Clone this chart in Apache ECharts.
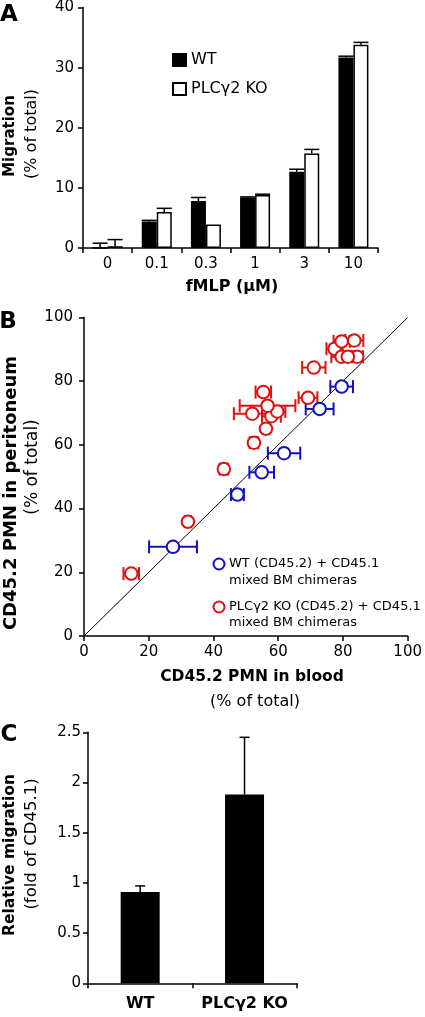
<!DOCTYPE html>
<html><head><meta charset="utf-8">
<script src="https://cdn.jsdelivr.net/npm/echarts@6/dist/echarts.min.js"></script>
<style>html,body{margin:0;padding:0;background:#fff}#c{width:425px;height:1017px}</style>
</head><body><div id="c"></div>
<script>
// ---------- Panel A data ----------
const doseCategories = ['0', '0.1', '0.3', '1', '3', '10'];
const wtMigration = [0, 4.4, 7.8, 8.4, 12.7, 31.7];
const wtMigrationErr = [0.8, 0.2, 0.6, 0.1, 0.4, 0.2];
const koMigration = [0.3, 6.0, 3.9, 8.8, 15.7, 33.8];
const koMigrationErr = [1.1, 0.6, 0, 0.15, 0.7, 0.4];
const migrationTicks = [0, 10, 20, 30, 40];

// ---------- Panel B data ----------
const wtBlood = [27.5, 47.4, 54.9, 61.8, 72.8, 79.6];
const wtPeritoneum = [28.0, 44.4, 51.4, 57.4, 71.3, 78.3];
const wtBloodErr = [7.4, 2.0, 3.8, 5.0, 4.3, 3.5];
const koBlood = [14.6, 32.1, 43.2, 52.5, 56.2, 52.0, 57.9, 59.7, 56.7, 69.2, 55.4, 71.0, 77.4, 79.6, 83.5, 79.6, 84.4, 81.5];
const koPeritoneum = [19.6, 35.9, 52.4, 60.7, 65.1, 69.8, 69.0, 70.5, 72.3, 74.8, 76.6, 84.3, 90.2, 92.5, 92.8, 87.7, 87.7, 87.7];
const koBloodErr = [2.4, 1.0, 1.3, 1.3, 1.0, 5.7, 2.9, 2.5, 8.6, 2.9, 2.4, 3.6, 2.5, 2.5, 2.8, 3.2, 1.8, 2.0];
const identityLine = [[0, 0], [100, 100]];
const percentTicks = [0, 20, 40, 60, 80, 100];

// ---------- Panel C data ----------
const groupCategories = ['WT', 'PLCγ2 KO'];
const relativeMigration = [0.91, 1.88];
const relativeMigrationErr = [0.06, 0.57];
const relativeTicks = [0, 0.5, 1, 1.5, 2, 2.5];

const FONT = 'DejaVu Sans';
const BLUE = '#1010c8';
const RED = '#e01010';
const chart = echarts.init(document.getElementById('c'), null, {renderer: 'canvas'});

const barW = 15;
function barErr(offset, half, lw) {
  return function (params, api) {
    const c = api.value(0), v = api.value(1), e = api.value(2);
    if (!(e > 0)) return null;
    const p0 = api.coord([c, v]), p1 = api.coord([c, v + e]);
    const x = p0[0] + offset;
    return {type: 'group', children: [
      {type: 'line', shape: {x1: x, y1: p0[1], x2: x, y2: p1[1]}, style: {stroke: '#000', lineWidth: lw}},
      {type: 'line', shape: {x1: x - half, y1: p1[1], x2: x + half, y2: p1[1]}, style: {stroke: '#000', lineWidth: lw}}
    ]};
  };
}
function xErr(color) {
  return function (params, api) {
    const x = api.value(0), y = api.value(1), e = api.value(2);
    const a = api.coord([x - e, y]), b = api.coord([x + e, y]);
    const h = 6.5;
    const st = {stroke: color, lineWidth: 2};
    return {type: 'group', children: [
      {type: 'line', shape: {x1: a[0], y1: a[1], x2: b[0], y2: b[1]}, style: st},
      {type: 'line', shape: {x1: a[0], y1: a[1] - h, x2: a[0], y2: a[1] + h}, style: st},
      {type: 'line', shape: {x1: b[0], y1: b[1] - h, x2: b[0], y2: b[1] + h}, style: st}
    ]};
  };
}

const axisLineBlack = {show: true, lineStyle: {color: '#000', width: 1.5}};
const tickBlack = {show: true, length: 5, lineStyle: {color: '#000', width: 1.5}};
const lbl = (size, margin, bold) => ({color: '#000', fontFamily: FONT, fontSize: size, margin: margin, fontWeight: bold ? 'bold' : 'normal', interval: 0, hideOverlap: false});

function vText(x, y, text, size, bold) {
  return {type: 'text', x: x, y: y, rotation: Math.PI / 2,
    style: {text: text, fill: '#000', font: (bold ? 'bold ' : '') + size + 'px "' + FONT + '"', textAlign: 'center', textVerticalAlign: 'middle'}};
}
function hText(x, y, text, size, bold, align) {
  return {type: 'text', x: x, y: y,
    style: {text: text, fill: '#000', font: (bold ? 'bold ' : '') + size + 'px "' + FONT + '"', textAlign: align || 'center', textVerticalAlign: 'middle'}};
}

const option = {
  animation: false,
  backgroundColor: '#fff',
  textStyle: {fontFamily: FONT},
  grid: [
    {left: 83, top: 7, width: 295, height: 241},
    {left: 84, top: 317.5, width: 330, height: 318.5},
    {left: 88, top: 732.3, width: 208.7, height: 251}
  ],
  xAxis: [
    {gridIndex: 0, type: 'category', data: doseCategories, axisLine: axisLineBlack, axisTick: tickBlack,
      axisLabel: lbl(15, 9, false)},
    {gridIndex: 1, type: 'value', min: percentTicks[0], max: percentTicks[percentTicks.length - 1], interval: 20,
      axisLine: axisLineBlack, axisTick: tickBlack, splitLine: {show: false}, axisLabel: lbl(15, 9, false)},
    {gridIndex: 2, type: 'category', data: groupCategories, axisLine: axisLineBlack, axisTick: tickBlack,
      axisLabel: lbl(16, 13, true)}
  ],
  yAxis: [
    {gridIndex: 0, type: 'value', min: migrationTicks[0], max: migrationTicks[migrationTicks.length - 1], interval: 10,
      axisLine: axisLineBlack, axisTick: tickBlack, splitLine: {show: false}, axisLabel: lbl(15, 9, false)},
    {gridIndex: 1, type: 'value', min: percentTicks[0], max: percentTicks[percentTicks.length - 1], interval: 20,
      axisLine: axisLineBlack, axisTick: tickBlack, splitLine: {show: false}, axisLabel: lbl(15, 11, false)},
    {gridIndex: 2, type: 'value', min: relativeTicks[0], max: relativeTicks[relativeTicks.length - 1], interval: 0.5,
      axisLine: axisLineBlack, axisTick: tickBlack, splitLine: {show: false}, axisLabel: lbl(15, 7, false)}
  ],
  legend: {
    orient: 'vertical', left: 167, top: 47, itemWidth: 13, itemHeight: 12, itemGap: 13,
    icon: 'rect', textStyle: {fontFamily: FONT, fontSize: 16, color: '#000'},
    data: ['WT', 'PLCγ2 KO'], selectedMode: false
  },
  series: [
    {name: 'WT', type: 'bar', xAxisIndex: 0, yAxisIndex: 0, data: wtMigration, barWidth: barW, barGap: '0%',
      itemStyle: {color: '#000', borderColor: '#000', borderWidth: 1.5}},
    {name: 'PLCγ2 KO', type: 'bar', xAxisIndex: 0, yAxisIndex: 0, data: koMigration, barWidth: barW, barGap: '0%',
      itemStyle: {color: '#fff', borderColor: '#000', borderWidth: 1.5}},
    {type: 'custom', xAxisIndex: 0, yAxisIndex: 0, renderItem: barErr(-barW / 2, 7.5, 1.5), z: 5,
      data: wtMigration.map((v, i) => [i, v, wtMigrationErr[i]]), encode: {x: 0, y: 1}},
    {type: 'custom', xAxisIndex: 0, yAxisIndex: 0, renderItem: barErr(barW / 2, 7.5, 1.5), z: 5,
      data: koMigration.map((v, i) => [i, v, koMigrationErr[i]]), encode: {x: 0, y: 1}},

    {type: 'line', xAxisIndex: 1, yAxisIndex: 1, data: identityLine, symbol: 'none', z: 1,
      lineStyle: {color: '#000', width: 1}},
    {type: 'custom', xAxisIndex: 1, yAxisIndex: 1, renderItem: xErr(RED), z: 2,
      data: koBlood.map((x, i) => [x, koPeritoneum[i], koBloodErr[i]]), encode: {x: 0, y: 1}},
    {type: 'custom', xAxisIndex: 1, yAxisIndex: 1, renderItem: xErr(BLUE), z: 2,
      data: wtBlood.map((x, i) => [x, wtPeritoneum[i], wtBloodErr[i]]), encode: {x: 0, y: 1}},
    {type: 'scatter', xAxisIndex: 1, yAxisIndex: 1, symbol: 'circle', symbolSize: 12.5, z: 3,
      itemStyle: {color: '#fff', borderColor: RED, borderWidth: 2, opacity: 1},
      data: koBlood.map((x, i) => [x, koPeritoneum[i]])},
    {type: 'scatter', xAxisIndex: 1, yAxisIndex: 1, symbol: 'circle', symbolSize: 12.5, z: 3,
      itemStyle: {color: '#fff', borderColor: BLUE, borderWidth: 2, opacity: 1},
      data: wtBlood.map((x, i) => [x, wtPeritoneum[i]])},

    {type: 'bar', xAxisIndex: 2, yAxisIndex: 2, data: relativeMigration, barWidth: 39,
      itemStyle: {color: '#000'}},
    {type: 'custom', xAxisIndex: 2, yAxisIndex: 2, renderItem: barErr(0, 5, 1.5), z: 5,
      data: relativeMigration.map((v, i) => [i, v, relativeMigrationErr[i]]), encode: {x: 0, y: 1}}
  ],
  graphic: [
    hText(9, 15, 'A', 23, true),
    hText(8, 322, 'B', 23, true),
    hText(9, 735, 'C', 23, true),
    vText(10, 136, 'Migration', 15, true),
    vText(32, 134, '(% of total)', 16, false),
    hText(232, 287, 'fMLP (µM)', 16, true),
    vText(11, 493, 'CD45.2 PMN in peritoneum', 18, true),
    vText(33, 467, '(% of total)', 17, false),
    hText(252, 677, 'CD45.2 PMN in blood', 15.5, true),
    hText(255, 702, '(% of total)', 16, false),
    vText(10, 855, 'Relative migration', 15.5, true),
    vText(32, 844, '(fold of CD45.1)', 16.5, false),
    // legend B
    {type: 'circle', shape: {cx: 219, cy: 564, r: 5.5}, style: {fill: '#fff', stroke: BLUE, lineWidth: 2}},
    hText(229, 564, 'WT (CD45.2) + CD45.1', 13, false, 'left'),
    hText(229, 581, 'mixed BM chimeras', 13, false, 'left'),
    {type: 'circle', shape: {cx: 219, cy: 607, r: 5.5}, style: {fill: '#fff', stroke: RED, lineWidth: 2}},
    hText(229, 607, 'PLCγ2 KO (CD45.2) + CD45.1', 13, false, 'left'),
    hText(229, 623, 'mixed BM chimeras', 13, false, 'left')
  ]
};
chart.setOption(option);
</script></body></html>
